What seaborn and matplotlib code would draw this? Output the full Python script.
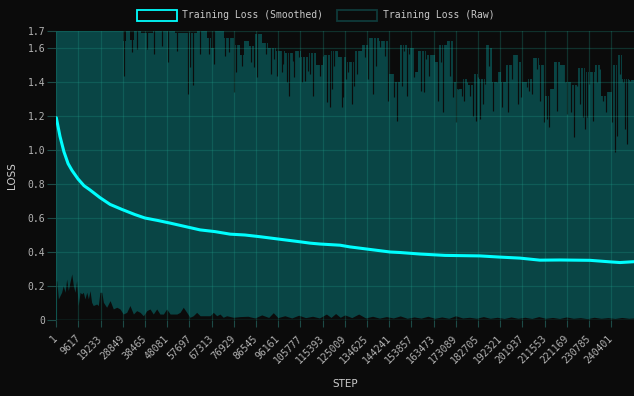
import matplotlib
matplotlib.use("Agg")
import matplotlib.pyplot as plt
import numpy as np
import pandas as pd
import seaborn as sns
from matplotlib.patches import Rectangle

# ---------------- data (steps in thousands, loss values) ----------------
smooth_step_k = [0.0, 1.6, 3.3, 5.1, 6.8, 9.4, 12.0, 14.6, 18.9, 23.3, 28.5, 34.1, 38.4,
                 44.1, 49.3, 55.8, 62.3, 68.7, 75.3, 81.7, 88.2, 96.9, 105.6, 110.0, 114.2,
                 122.9, 127.2, 135.9, 144.6, 148.9, 157.6, 168.4, 183.5, 192.2, 200.9,
                 209.5, 218.2, 231.2, 239.9, 244.2, 250.3]
smooth_loss = [1.19, 1.08, 0.99, 0.92, 0.88, 0.83, 0.79, 0.765, 0.72, 0.68, 0.65, 0.62, 0.60,
               0.585, 0.57, 0.55, 0.53, 0.52, 0.505, 0.50, 0.49, 0.475, 0.46, 0.452, 0.447,
               0.44, 0.43, 0.415, 0.40, 0.397, 0.388, 0.38, 0.377, 0.37, 0.364,
               0.352, 0.353, 0.351, 0.342, 0.338, 0.343]

# lower envelope of the raw loss
raw_low_step_k = [0.0, 0.2, 0.9, 2.3, 3.0, 3.8, 4.5, 5.2, 5.9, 6.7, 7.4, 8.1, 8.8, 9.5, 10.3,
                  11.0, 11.7, 12.4, 13.2, 13.9, 14.6, 15.3, 16.0, 17.5, 18.2, 18.9, 19.7,
                  20.4, 21.8, 23.3, 24.7, 26.2, 27.6, 29.0, 30.5, 31.9, 33.4, 34.8, 36.3,
                  37.7, 39.2, 40.6, 42.0, 43.5, 44.9, 46.4, 47.8, 49.3, 50.7, 52.2, 53.6,
                  55.0, 56.5, 57.9, 59.3, 60.8, 62.3, 63.7, 65.2, 66.6, 68.0, 69.5, 70.9,
                  72.3, 73.8, 76.7, 79.6, 83.0, 86.0, 89.0, 92.0, 94.0, 96.0, 99.0, 102.0,
                  105.0, 108.0, 111.0, 114.0, 117.0, 119.0, 121.0, 123.0, 125.0, 128.0,
                  131.0, 134.0, 137.0, 140.0, 143.0, 146.0, 149.0, 152.0, 155.0, 158.0,
                  161.0, 164.0, 167.0, 170.0, 173.0, 176.0, 179.0, 182.0, 185.0, 188.0,
                  191.0, 194.0, 197.0, 200.0, 203.0, 206.0, 209.0, 212.0, 215.0, 218.0,
                  221.0, 224.0, 227.0, 230.0, 233.0, 236.0, 239.0, 242.0, 245.0, 248.0, 250.3]
raw_low_loss = [0.23, 0.231, 0.124, 0.163, 0.202, 0.163, 0.241, 0.173, 0.222, 0.271, 0.202,
                0.163, 0.231, 0.085, 0.163, 0.153, 0.163, 0.124, 0.163, 0.124, 0.173, 0.104,
                0.085, 0.094, 0.085, 0.163, 0.163, 0.104, 0.075, 0.114, 0.065, 0.075, 0.065,
                0.035, 0.045, 0.085, 0.035, 0.055, 0.045, 0.025, 0.055, 0.065, 0.035, 0.065,
                0.035, 0.035, 0.065, 0.035, 0.035, 0.035, 0.045, 0.075, 0.045, 0.016, 0.025,
                0.045, 0.025, 0.025, 0.025, 0.025, 0.045, 0.025, 0.035, 0.016, 0.025, 0.016,
                0.02, 0.022, 0.012, 0.03, 0.015, 0.043, 0.014, 0.025, 0.012, 0.028, 0.014,
                0.022, 0.012, 0.035, 0.015, 0.038, 0.016, 0.03, 0.014, 0.035, 0.012, 0.022,
                0.011, 0.02, 0.012, 0.024, 0.01, 0.018, 0.011, 0.022, 0.01, 0.018, 0.01,
                0.025, 0.012, 0.016, 0.01, 0.02, 0.01, 0.016, 0.009, 0.018, 0.01, 0.016,
                0.009, 0.02, 0.01, 0.015, 0.009, 0.018, 0.01, 0.014, 0.008, 0.016, 0.01,
                0.014, 0.009, 0.015, 0.01, 0.012]

# upper envelope (dense mass) of the raw loss
raw_high_step_k = [0.0, 28.5, 29.3, 31.1, 32.8, 34.5, 38.9, 44.9, 57.9, 64.4, 66.2, 67.9,
                   69.6, 76.1, 78.7, 80.4, 82.2, 84.8, 87.4, 90.4, 93.4, 96.9, 101.2, 104.7,
                   107.7, 111.2, 114.2, 116.8, 120.3, 123.8, 127.2, 130.7, 134.2, 136.8,
                   142.4, 145.4, 148.0, 149.8, 154.1, 155.4, 157.6, 162.8, 164.9, 167.1,
                   171.4, 172.3, 174.9, 177.5, 179.2, 181.8, 184.8, 186.6, 188.3, 189.6,
                   192.2, 193.5, 195.7, 198.7, 200.9, 203.0, 205.2, 207.4, 210.4, 212.6,
                   214.7, 216.5, 219.5, 221.7, 224.7, 226.9, 231.2, 235.5, 236.8, 239.8,
                   241.6, 244.2, 245.9, 250.3]
raw_high_loss = [1.72, 1.72, 1.64, 1.70, 1.65, 1.70, 1.69, 1.70, 1.69, 1.70, 1.66, 1.60,
                 1.70, 1.66, 1.62, 1.56, 1.64, 1.61, 1.68, 1.63, 1.60, 1.58, 1.57, 1.58,
                 1.55, 1.57, 1.50, 1.56, 1.58, 1.55, 1.52, 1.58, 1.62, 1.66,
                 1.64, 1.45, 1.40, 1.62, 1.60, 1.46, 1.58, 1.56, 1.52, 1.62,
                 1.64, 1.40, 1.36, 1.42, 1.38, 1.45, 1.42, 1.62, 1.60, 1.40,
                 1.46, 1.40, 1.50, 1.56, 1.52, 1.40, 1.42, 1.54, 1.50, 1.32,
                 1.36, 1.52, 1.50, 1.40, 1.38, 1.48, 1.46, 1.50, 1.32, 1.34,
                 1.50, 1.56, 1.42, 1.41]

# individual downward dips of the raw loss peaks
raw_dip_step_k = [29.3, 33.0, 34.8, 39.4, 42.5, 45.9, 48.5, 52.4, 57.2, 58.1, 59.3, 62.3,
                  66.3, 68.3, 73.1, 74.9, 77.0, 77.8, 80.4, 84.3, 85.6, 87.1, 90.8, 93.0,
                  94.3, 95.7, 97.6, 98.3, 99.8, 100.9, 102.5, 103.1, 105.3, 106.6, 107.7,
                  108.9, 109.9, 111.3, 114.2, 115.4, 117.4, 118.6, 119.3, 120.4, 121.9,
                  123.6, 124.3, 125.5, 126.5, 128.0, 129.1, 130.4, 131.9, 133.7, 135.0,
                  137.3, 138.5, 140.2, 142.4, 143.6, 144.6, 146.4, 147.8, 149.6, 150.8,
                  151.8, 152.9, 155.0, 156.1, 158.0, 159.4, 160.2, 161.6, 162.6, 165.5,
                  166.5, 167.4, 168.4, 170.6, 172.0, 173.2, 174.1, 175.6, 176.6, 177.8,
                  179.2, 180.6, 181.8, 182.6, 183.5, 185.0, 185.7, 187.6, 189.3, 190.8,
                  191.9, 192.9, 194.4, 195.8, 197.3, 198.7, 199.9, 201.2, 202.3, 203.8,
                  204.9, 206.2, 208.1, 209.5, 211.3, 212.4, 213.6, 214.6, 215.7, 217.0,
                  218.9, 220.4, 221.4, 223.0, 224.3, 225.4, 226.9, 228.0, 229.0, 230.0,
                  230.9, 232.4, 234.1, 235.5, 237.0, 238.1, 239.6, 240.6, 242.0, 243.0,
                  244.2, 245.6, 246.4, 247.4, 248.5, 249.7]
raw_dip_loss = [1.437, 1.575, 1.594, 1.594, 1.565, 1.614, 1.52, 1.584, 1.329, 1.486, 1.382,
                1.565, 1.565, 1.506, 1.555, 1.575, 1.339, 1.457, 1.496, 1.516, 1.486, 1.427,
                1.565, 1.447, 1.535, 1.437, 1.457, 1.506, 1.398, 1.320, 1.526, 1.427, 1.545,
                1.402, 1.408, 1.467, 1.447, 1.320, 1.437, 1.555, 1.280, 1.251, 1.359, 1.496,
                1.575, 1.251, 1.310, 1.418, 1.457, 1.270, 1.378, 1.447, 1.594, 1.545, 1.418,
                1.329, 1.496, 1.604, 1.555, 1.290, 1.496, 1.310, 1.172, 1.378, 1.584, 1.320,
                1.565, 1.427, 1.594, 1.349, 1.339, 1.535, 1.437, 1.565, 1.290, 1.516, 1.221,
                1.633, 1.437, 1.310, 1.163, 1.359, 1.320, 1.290, 1.398, 1.320, 1.202, 1.172,
                1.427, 1.182, 1.270, 1.388, 1.496, 1.231, 1.398, 1.555, 1.251, 1.496, 1.221,
                1.418, 1.594, 1.270, 1.310, 1.516, 1.369, 1.349, 1.329, 1.476, 1.290, 1.163,
                1.182, 1.133, 1.437, 1.535, 1.231, 1.535, 1.398, 1.212, 1.221, 1.075, 1.378,
                1.270, 1.192, 1.123, 1.192, 1.388, 1.172, 1.398, 1.476, 1.290, 1.221, 1.408,
                1.163, 0.986, 1.084, 1.447, 1.398, 1.123, 1.035, 1.408, 1.437]

x_tick_steps = [1, 9617, 19233, 28849, 38465, 48081, 57697, 67313, 76929, 86545, 96161,
                105777, 115393, 125009, 134625, 144241, 153857, 163473, 173089, 182705,
                192321, 201937, 211553, 221169, 230785, 240401]
y_tick_vals = [0, 0.2, 0.4, 0.6, 0.8, 1.0, 1.2, 1.4, 1.6, 1.7]
y_tick_labels = ["0", "0.2", "0.4", "0.6", "0.8", "1.0", "1.2", "1.4", "1.6", "1.7"]

# ---------------- style ----------------
BG = "#0b0b0b"
TEAL = "#094545"
CYAN = "#00ffff"
GRID = "#22a08c"
TICKC = "#1d4a46"
TXT = "#b4b4b4"

sns.set_theme(style="dark", rc={"axes.facecolor": TEAL, "figure.facecolor": BG,
                                "savefig.facecolor": BG})
plt.rcParams["font.family"] = ["DejaVu Sans Mono", "DejaVu Sans"]

W, H = 634, 396
fig = plt.figure(figsize=(W / 100, H / 100), dpi=100)
L, R, T, B = 56.3, 634, 31, 320
ax = fig.add_axes([L / W, (H - B) / H, (R - L) / W, (B - T) / H])
ax.set_facecolor(TEAL)

to_step = lambda ks: np.asarray(ks) * 1000 + 1

# dark regions: below lower envelope and above upper envelope
ax.fill_between(to_step(raw_low_step_k), 0, raw_low_loss, color=BG, lw=0, zorder=1)
ax.fill_between(to_step(raw_high_step_k), raw_high_loss, 1.8, color=BG, lw=0, zorder=1,
                step="mid")
ax.vlines(to_step(raw_dip_step_k), raw_dip_loss, 1.8, color=BG, lw=0.85, zorder=1)

df = pd.DataFrame({"step": to_step(smooth_step_k), "loss": smooth_loss})
sns.lineplot(data=df, x="step", y="loss", ax=ax, color=CYAN, lw=2.2, zorder=5,
             legend=False)

ax.set_xlim(1, 250260)
ax.set_ylim(0, 1.7)
ax.set_xticks(x_tick_steps)
ax.set_xticklabels([str(s) for s in x_tick_steps], rotation=45, ha="right",
                   va="center", rotation_mode="anchor")
ax.set_yticks(y_tick_vals)
ax.set_yticklabels(y_tick_labels)
ax.grid(True, color=GRID, alpha=0.26, lw=0.9)
ax.set_axisbelow(False)
for s in ax.spines.values():
    s.set_visible(False)
ax.axhline(0, color=GRID, alpha=0.4, lw=1.0, zorder=3)
ax.tick_params(axis="x", length=5, width=0.8, color=TICKC, pad=7, labelsize=7,
               labelcolor=TXT, bottom=True)
ax.tick_params(axis="y", length=6.5, width=0.8, color=TICKC, pad=1.5, labelsize=7,
               labelcolor=TXT, left=True)
ax.set_xlabel("")
ax.set_ylabel("")

fig.text(12 / W, 1 - 175.5 / H, "LOSS", rotation=90, ha="center", va="center",
         fontsize=7.5, color="#cccccc", family=["DejaVu Sans"])
fig.text(345 / W, 1 - 384 / H, "STEP", ha="center", va="center",
         fontsize=7.5, color="#cccccc", family=["DejaVu Sans"])

# legend
fig.patches.append(Rectangle((137 / W, 1 - 21 / H), 40 / W, 11 / H, transform=fig.transFigure,
                             facecolor=BG, edgecolor=CYAN, lw=1.3))
fig.text(182 / W, 1 - 15 / H, "Training Loss (Smoothed)", ha="left", va="center",
         fontsize=7, color="#c8c8c8")
fig.patches.append(Rectangle((337 / W, 1 - 21 / H), 40 / W, 11 / H, transform=fig.transFigure,
                             facecolor=BG, edgecolor="#0f3a3a", lw=1.3))
fig.text(383 / W, 1 - 15 / H, "Training Loss (Raw)", ha="left", va="center",
         fontsize=7, color="#c8c8c8")

fig.savefig("out.png", dpi=100)
